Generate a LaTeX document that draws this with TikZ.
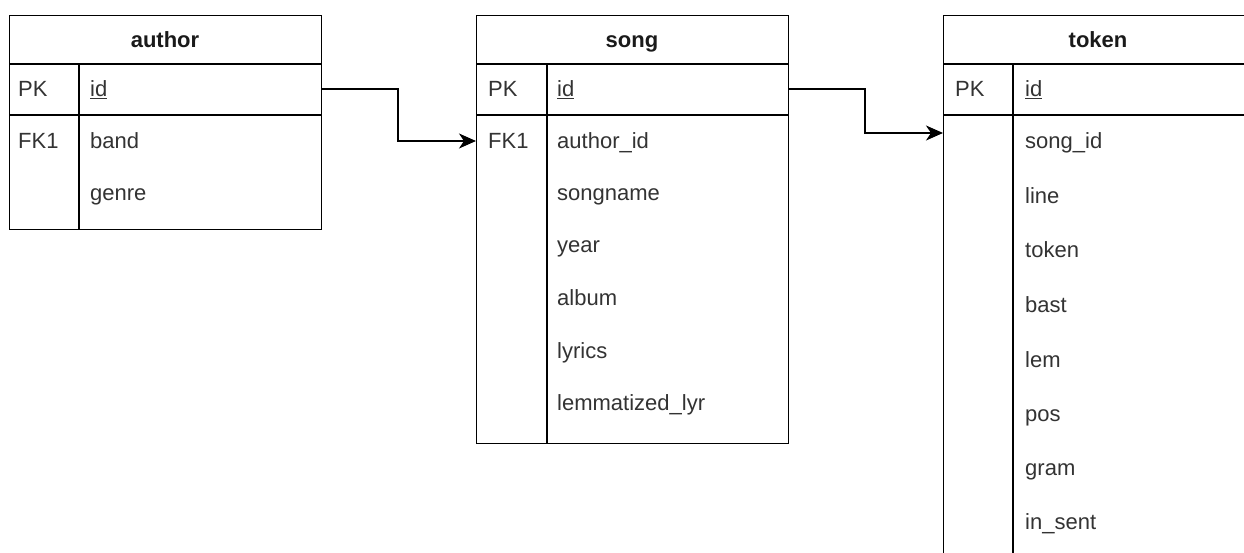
\documentclass[tikz,border=0pt]{standalone}
\usepackage{fontspec}
\setmainfont{Liberation Sans}
\usetikzlibrary{arrows.meta}
\definecolor{txt}{HTML}{333333}
\definecolor{ttl}{HTML}{1A1A1A}
\begin{document}
\begin{tikzpicture}[x=1pt,y=-1pt,
  tbl/.style={draw=black,line width=1.3pt,fill=white,rectangle,inner sep=0pt,anchor=north west},
  sep/.style={draw=black,line width=1.3pt},
  ttlnode/.style={font=\fontsize{22}{25}\selectfont\bfseries,text=ttl,inner sep=0pt,anchor=base},
  fld/.style={font=\fontsize{22}{25}\selectfont,text=txt,inner sep=0pt,anchor=base west},
  conn/.style={draw=black,line width=1.3pt,-{Stealth[length=17pt,width=15pt,inset=5pt]}}]
\useasboundingbox (0,0) rectangle (1244,553);
\clip (0,0) rectangle (1244,553);
\fill[white] (0,0) rectangle (1244,553);

% ---------- author ----------
\node[tbl,minimum width=312pt,minimum height=214pt] (author) at (9,15) {};
\draw[sep] (9,64) -- (321,64);
\draw[sep] (9,115) -- (321,115);
\draw[sep] (79,64) -- (79,229);
\node[ttlnode] (authorT) at (165,48) {author};
\node[fld] (apk) at (18,97) {PK};
\node[fld] (aid) at (90,97) {\underline{id}};
\node[fld] (afk) at (18,149) {FK1};
\node[fld] (aband) at (90,149) {band};
\node[fld] (agenre) at (90,201) {genre};

% ---------- song ----------
\node[tbl,minimum width=312pt,minimum height=428pt] (song) at (476,15) {};
\draw[sep] (476,64) -- (788,64);
\draw[sep] (476,115) -- (788,115);
\draw[sep] (547,64) -- (547,443);
\node[ttlnode] (songT) at (632,48) {song};
\node[fld] (spk) at (488,97) {PK};
\node[fld] (sid) at (557,97) {\underline{id}};
\node[fld] (sfk) at (488,149) {FK1};
\node[fld] (s1) at (557,149) {author\_id};
\node[fld] (s2) at (557,201) {songname};
\node[fld] (s3) at (557,253) {year};
\node[fld] (s4) at (557,305) {album};
\node[fld] (s5) at (557,358) {lyrics};
\node[fld] (s6) at (557,410) {lemmatized\_lyr};

% ---------- token ----------
\node[tbl,minimum width=310pt,minimum height=570pt] (token) at (943,15) {};
\draw[sep] (943,64) -- (1253,64);
\draw[sep] (943,115) -- (1253,115);
\draw[sep] (1013,64) -- (1013,585);
\node[ttlnode] (tokenT) at (1098,48) {token};
\node[fld] (tpk) at (955,97) {PK};
\node[fld] (tid) at (1025,97) {\underline{id}};
\node[fld] (t1) at (1025,149) {song\_id};
\node[fld] (t2) at (1025,204) {line};
\node[fld] (t3) at (1025,258) {token};
\node[fld] (t4) at (1025,312) {bast};
\node[fld] (t5) at (1025,367) {lem};
\node[fld] (t6) at (1025,421) {pos};
\node[fld] (t7) at (1025,475) {gram};
\node[fld] (t8) at (1025,529) {in\_sent};
\coordinate (tin) at (943,133);

% ---------- connectors ----------
\coordinate (aout) at (321,89);
\coordinate (sin) at (476,141);
\coordinate (sout) at (788,89);
\draw[conn] (aout) -- ++(77,0) |- (sin);
\draw[conn] (sout) -- ++(77,0) |- (tin);
\end{tikzpicture}
\end{document}
